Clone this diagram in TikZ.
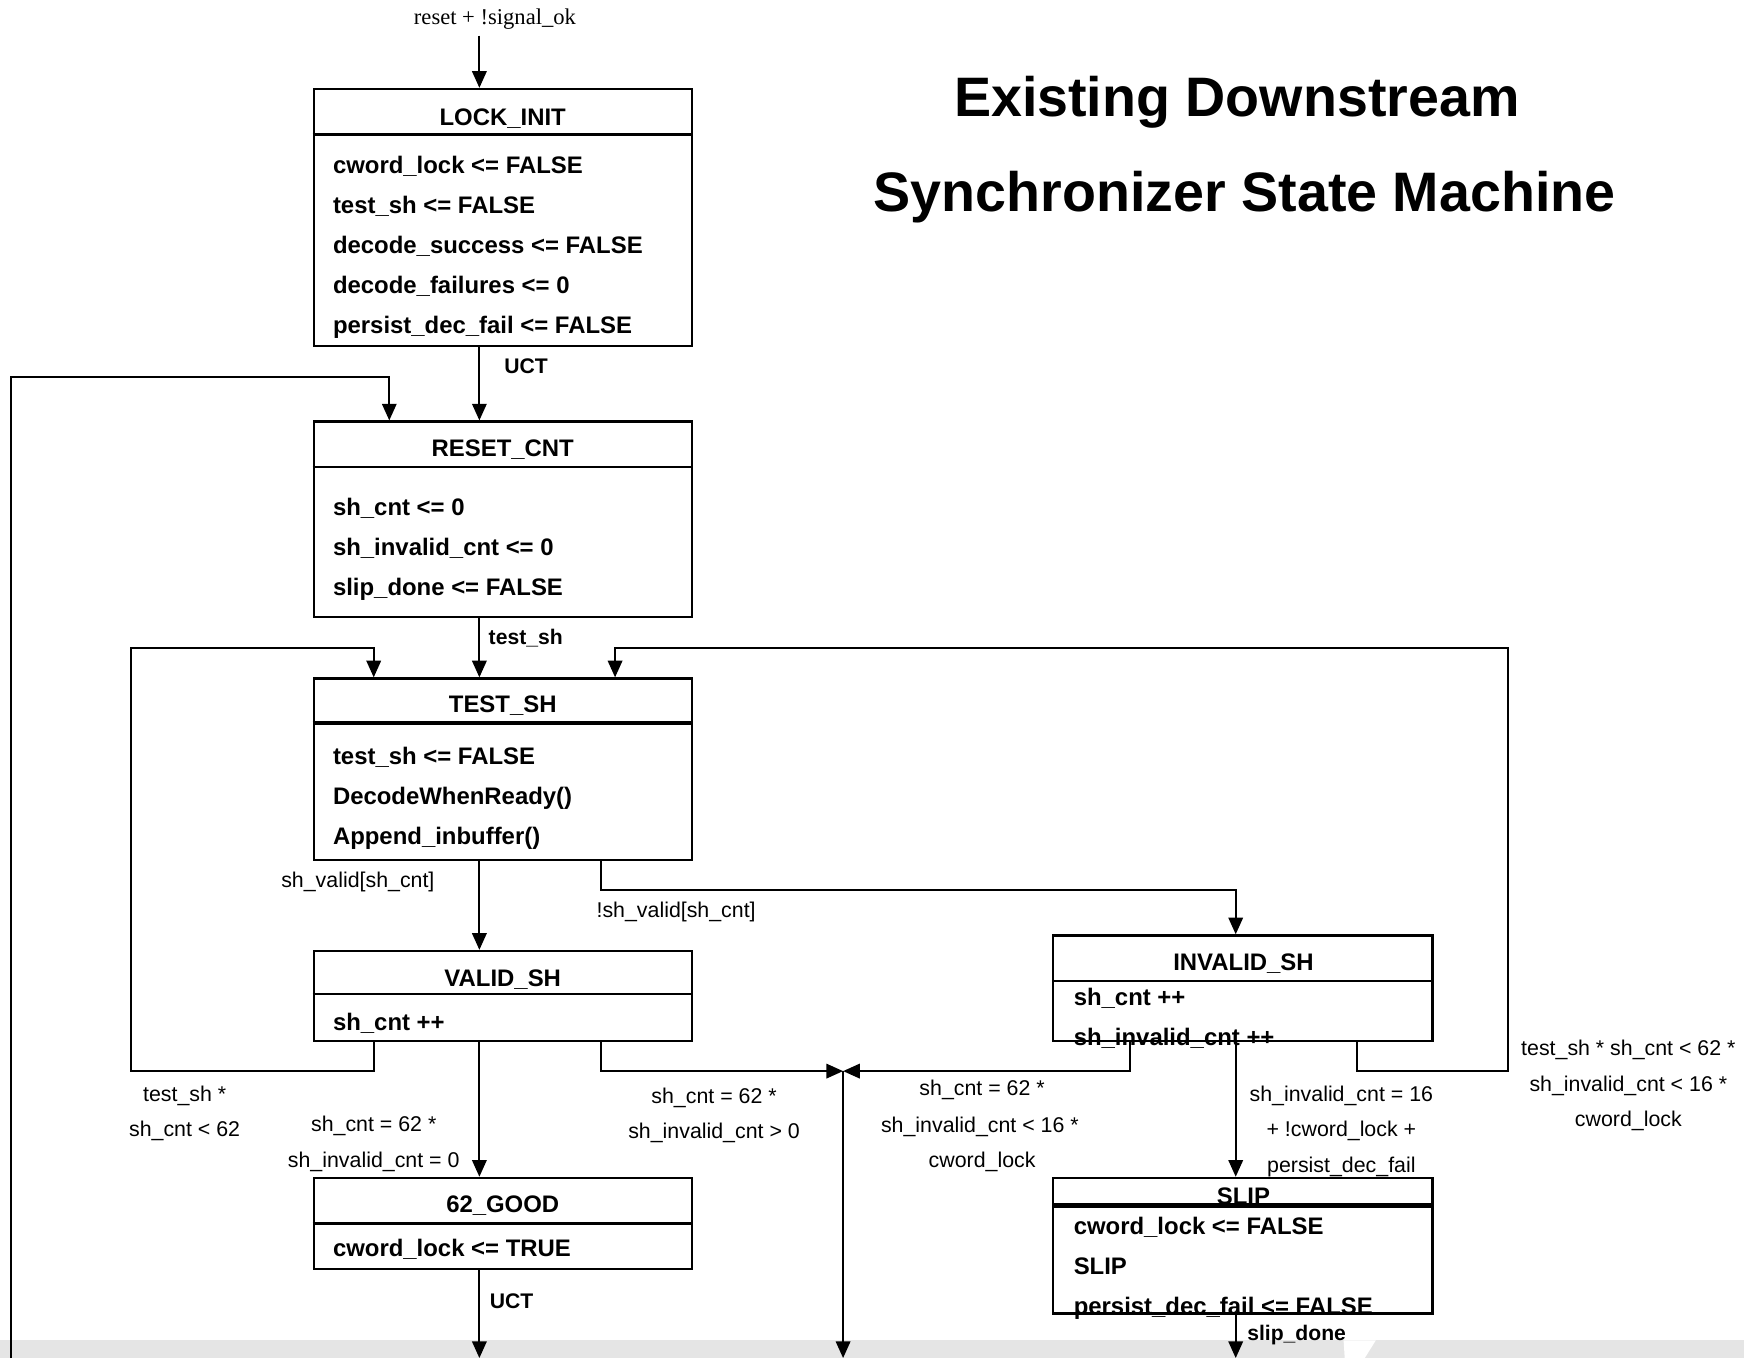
\documentclass[tikz,border=0pt]{standalone}
\usepackage{fontspec}
\setmainfont{Liberation Sans}
\newfontfamily\seriffont{Liberation Serif}
\usetikzlibrary{arrows.meta,fit}
\begin{document}
\begin{tikzpicture}[x=0.5pt,y=-0.5pt,
  box/.style={draw,line width=1pt,inner sep=0pt},
  ttl/.style={font=\fontsize{10.75pt}{12pt}\selectfont\bfseries,inner sep=0pt,text height=7.7pt,text depth=0pt},
  act/.style={ttl,anchor=west},
  lbl/.style={font=\fontsize{9.6pt}{11pt}\selectfont,inner sep=0pt,text height=6.9pt,text depth=0pt},
  blbl/.style={font=\fontsize{9.5pt}{11pt}\selectfont\bfseries,inner sep=0pt,text height=6.8pt,text depth=0pt,anchor=west},
  bigtitle/.style={font=\fontsize{25pt}{30pt}\selectfont\bfseries,inner sep=0pt,text height=18pt,text depth=0pt},
  conn/.style={line width=0.9pt},
  arr/.style={conn,-{Triangle[length=7.5pt,width=6.5pt]}},
  divider/.style={line width=1pt},
  thickdiv/.style={line width=2pt}]
\useasboundingbox (0,0) rectangle (1568,1221);
% bottom band
\fill[gray!20] (0,1205) rectangle (1568,1221);
\fill[white] (1208,1205) -- (1237,1205) -- (1227,1221) -- (1209,1221) -- cycle;

% title
\node[bigtitle] (t1) at (1112,87) {Existing Downstream};
\node[bigtitle] (t2) at (1119,172) {Synchronizer State Machine};

% ---------- boxes ----------
\node[box,fit={(282,80) (622,311)}] (lock) {};
\draw[divider] (lock.west |- 0,121) -- (lock.east |- 0,121);
\node[ttl] (lockT) at (452,105) {LOCK\_INIT};
\node[act] (lock1) at (299,148) {cword\_lock <= FALSE};
\node[act] (lock2) at (299,184) {test\_sh <= FALSE};
\node[act] (lock3) at (299,220) {decode\_success <= FALSE};
\node[act] (lock4) at (299,256) {decode\_failures <= 0};
\node[act] (lock5) at (299,292) {persist\_dec\_fail <= FALSE};

\node[box,fit={(282,379) (622,555)}] (reset) {};
\draw[divider] (reset.west |- 0,420) -- (reset.east |- 0,420);
\node[ttl] (resetT) at (452,403) {RESET\_CNT};
\node[act] (reset1) at (299,456) {sh\_cnt <= 0};
\node[act] (reset2) at (299,492) {sh\_invalid\_cnt <= 0};
\node[act] (reset3) at (299,528) {slip\_done <= FALSE};

\node[box,fit={(282,610) (622,773)}] (test) {};
\draw[thickdiv] (test.west |- 0,650) -- (test.east |- 0,650);
\node[ttl] (testT) at (452,633) {TEST\_SH};
\node[act] (test1) at (299,680) {test\_sh <= FALSE};
\node[act] (test2) at (299,716) {DecodeWhenReady()};
\node[act] (test3) at (299,752) {Append\_inbuffer()};

\node[box,fit={(282,855) (622,936)}] (valid) {};
\draw[divider] (valid.west |- 0,894) -- (valid.east |- 0,894);
\node[ttl] (validT) at (452,879) {VALID\_SH};
\node[act] (valid1) at (299,919) {sh\_cnt ++};

\node[box,fit={(282,1059) (622,1141)}] (good) {};
\draw[divider] (good.west |- 0,1100) -- (good.east |- 0,1100);
\node[ttl] (goodT) at (452,1082) {62\_GOOD};
\node[act] (good1) at (299,1122) {cword\_lock <= TRUE};

\node[box,fit={(947,841) (1288,936)}] (inv) {};
\draw[divider] (inv.west |- 0,882) -- (inv.east |- 0,882);
\node[ttl] (invT) at (1118,865) {INVALID\_SH};
\node[act] (inv1) at (965,896) {sh\_cnt ++};
\node[act] (inv2) at (965,932) {sh\_invalid\_cnt ++};

\node[box,fit={(947,1059) (1288,1181)}] (slip) {};
\draw[thickdiv] (slip.west |- 0,1084) -- (slip.east |- 0,1084);
\node[ttl] (slipT) at (1118,1075) {SLIP};
\node[act] (slip1) at (965,1102) {cword\_lock <= FALSE};
\node[act] (slip2) at (965,1138) {SLIP};
\node[act] (slip3) at (965,1174) {persist\_dec\_fail <= FALSE};

% ---------- connectors ----------
\node[inner sep=0pt,font=\fontsize{10.15pt}{12pt}\seriffont,text height=7pt,text depth=0pt] (rst) at (445,15) {reset + !signal\_ok};
\coordinate (start) at (431,32);
\draw[arr] (start) -- (start |- lock.north);

\draw[arr] (431,0 |- lock.south) -- (431,0 |- reset.north);
\node[blbl] (uct1) at (453,329) {UCT};

\coordinate (loopin) at (10,1221);
\draw[arr] (loopin) |- (350,339) -- (350,0 |- reset.north);

\draw[arr] (431,0 |- reset.south) -- (431,0 |- test.north);
\node[blbl] (tsh) at (439,573) {test\_sh};

\draw[arr] (431,0 |- test.south) -- (431,0 |- valid.north);
\node[lbl,anchor=east] (lv) at (391,791) {sh\_valid[sh\_cnt]};

\draw[arr] (540,0 |- test.south) -- (540,800) -| (1111,0 |- inv.north);
\node[lbl,anchor=west] (lnv) at (536,818) {!sh\_valid[sh\_cnt]};

\draw[arr] (336,0 |- valid.south) -- (336,963) -| (118,583) -| (336,0 |- test.north);
\node[lbl] (ll1) at (166,983) {test\_sh *};
\node[lbl] (ll2) at (166,1015) {sh\_cnt < 62};

\draw[arr] (1220,0 |- inv.south) -- (1220,963) -| (1356,583) -| (553,0 |- test.north);
\node[lbl] (lr1) at (1464,942) {test\_sh * sh\_cnt < 62 *};
\node[lbl] (lr2) at (1464,974) {sh\_invalid\_cnt < 16 *};
\node[lbl] (lr3) at (1464,1006) {cword\_lock};

\draw[arr] (431,0 |- valid.south) -- (431,0 |- good.north);
\node[lbl] (lg1) at (336,1010) {sh\_cnt = 62 *};
\node[lbl] (lg2) at (336,1043) {sh\_invalid\_cnt = 0};

\coordinate (junc) at (758,963);
\coordinate (juncout) at (758,1221);
\draw[arr] (540,0 |- valid.south) -- (540,963) -- (junc);
\draw[arr] (1016,0 |- inv.south) -- (1016,963) -- (junc);
\draw[arr] (junc) -- (juncout);
\node[lbl] (lj1) at (642,985) {sh\_cnt = 62 *};
\node[lbl] (lj2) at (642,1017) {sh\_invalid\_cnt > 0};
\node[lbl] (lk1) at (883,978) {sh\_cnt = 62 *};
\node[lbl] (lk2) at (881,1011) {sh\_invalid\_cnt < 16 *};
\node[lbl] (lk3) at (883,1043) {cword\_lock};

\draw[arr] (1111,0 |- inv.south) -- (1111,0 |- slip.north);
\node[lbl] (ls1) at (1206,983) {sh\_invalid\_cnt = 16};
\node[lbl] (ls2) at (1206,1015) {+ !cword\_lock +};
\node[lbl] (ls3) at (1206,1047) {persist\_dec\_fail};

\coordinate (goodout) at (431,1221);
\draw[arr] (431,0 |- good.south) -- (goodout);
\node[blbl] (uct2) at (440,1170) {UCT};

\coordinate (slipout) at (1111,1221);
\draw[arr] (1111,0 |- slip.south) -- (slipout);
\node[blbl] (sd) at (1121,1198) {slip\_done};
\end{tikzpicture}
\end{document}
